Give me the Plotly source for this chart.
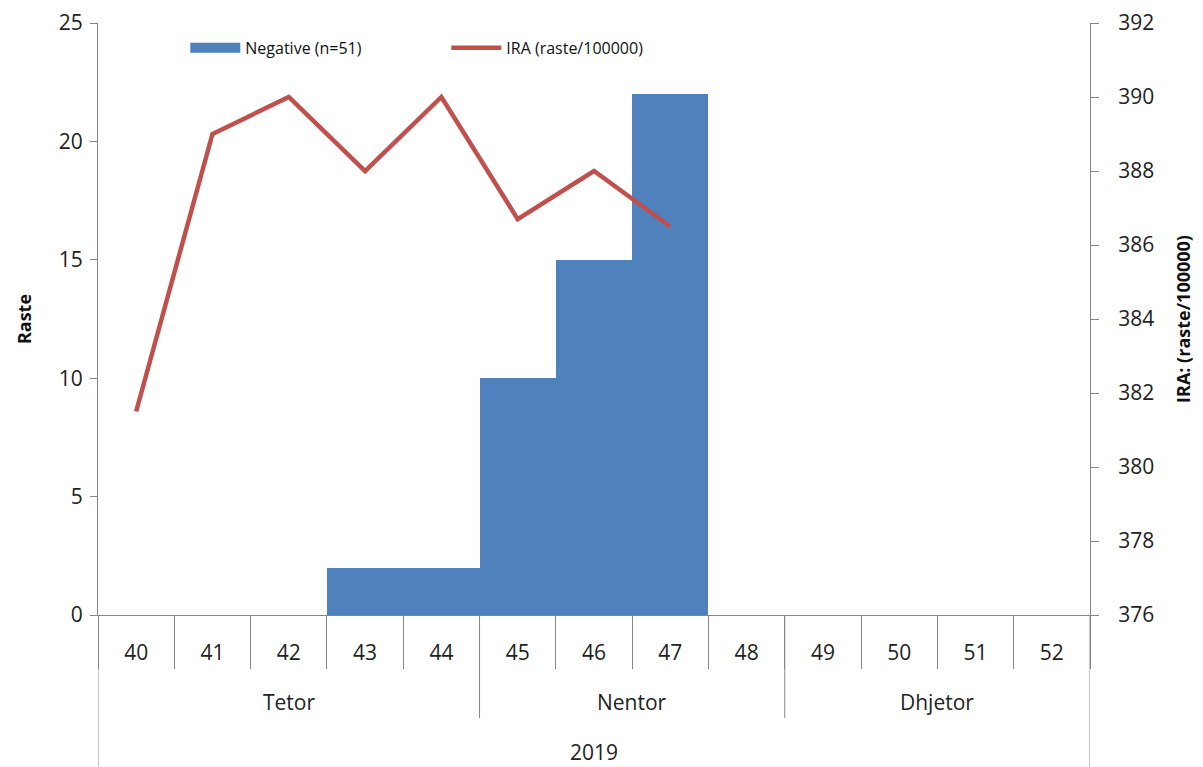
import plotly.graph_objects as go

weeks = ["40", "41", "42", "43", "44", "45", "46", "47", "48", "49", "50", "51", "52"]
months = ["Tetor", "Tetor", "Tetor", "Tetor", "Tetor",
          "Nentor", "Nentor", "Nentor", "Nentor",
          "Dhjetor", "Dhjetor", "Dhjetor", "Dhjetor"]
year_label = "2019"
negative = [0, 0, 0, 2, 2, 10, 15, 22, 0, 0, 0, 0, 0]
ira_weeks = ["40", "41", "42", "43", "44", "45", "46", "47"]
ira_values = [381.5, 389.0, 390.0, 388.0, 390.0, 386.7, 388.0, 386.5]

FONT = "'Open Sans', sans-serif"
GRAY = "#868686"
TXT = "#222222"
BLUE = "#4F81BD"
RED = "#C0504D"
TS = 21

fig = go.Figure()
fig.add_trace(go.Bar(
    x=weeks, y=negative, name="Negative (n=51)",
    marker=dict(color=BLUE, line=dict(width=0)),
    yaxis="y", showlegend=False, legendgroup="neg",
))
# legend proxy giving a wide rectangular swatch for the bar series
fig.add_trace(go.Scatter(
    x=[None], y=[None], name="Negative (n=51)", mode="lines",
    line=dict(color=BLUE, width=14), legendgroup="neg", yaxis="y",
))
fig.add_trace(go.Scatter(
    x=ira_weeks, y=ira_values, name="IRA (raste/100000)", mode="lines",
    line=dict(color=RED, width=4.5),
    yaxis="y2",
))

groups = []
for i, m in enumerate(months):
    if not groups or groups[-1][0] != m:
        groups.append([m, i, i])
    else:
        groups[-1][2] = i

shapes = []
annotations = []
for g in groups[:-1]:
    xb = g[2] + 0.5
    shapes.append(dict(type="line", xref="x", yref="paper", x0=xb, x1=xb,
                       ysizemode="pixel", yanchor=0, y0=0, y1=-103,
                       line=dict(color=GRAY, width=1)))
for g in groups:
    annotations.append(dict(text=g[0], xref="x", yref="paper",
                            x=(g[1] + g[2]) / 2, y=0, yshift=-103,
                            showarrow=False, font=dict(size=TS, color=TXT, family=FONT)))
annotations.append(dict(text=year_label, xref="x", yref="paper",
                        x=(len(weeks) - 1) / 2, y=0, yshift=-153,
                        showarrow=False, font=dict(size=TS, color=TXT, family=FONT)))
for xv in [-0.5, len(weeks) - 0.5]:
    shapes.append(dict(type="line", xref="x", yref="paper", x0=xv, x1=xv,
                       ysizemode="pixel", yanchor=0, y0=0, y1=-160,
                       line=dict(color=GRAY, width=1)))

fig.update_layout(
    width=1203, height=767,
    margin=dict(l=98, r=113, t=23, b=152, autoexpand=False),
    paper_bgcolor="white", plot_bgcolor="white",
    bargap=0,
    font=dict(family=FONT, color=TXT),
    showlegend=True,
    legend=dict(orientation="h", x=0.088, y=0.958, xanchor="left", yanchor="middle",
                font=dict(size=16, color="#111111", family=FONT),
                bgcolor="rgba(0,0,0,0)", itemwidth=50, traceorder="normal",
                entrywidth=196, entrywidthmode="pixels"),
    xaxis=dict(type="category", tickson="boundaries", ticks="outside", ticklen=53,
               tickcolor=GRAY, showline=True, linecolor=GRAY, linewidth=1,
               showgrid=False, tickfont=dict(size=TS, color=TXT, family=FONT),
               range=[-0.5, len(weeks) - 0.5], ticklabelstandoff=19, automargin=False),
    yaxis=dict(range=[0, 25], dtick=5, ticks="outside", ticklen=7, tickcolor=GRAY,
               showline=True, linecolor=GRAY, showgrid=False, zeroline=False,
               tickfont=dict(size=TS, color=TXT, family=FONT), automargin=False,
               ticklabelstandoff=3,
               title=dict(text="<b>Raste</b>", font=dict(size=18, color="#111111", family=FONT),
                          standoff=22)),
    yaxis2=dict(range=[376, 392], dtick=2, ticks="outside", ticklen=8, tickcolor=GRAY,
                overlaying="y", side="right", automargin=False, ticklabelstandoff=15,
                showline=True, linecolor=GRAY, showgrid=False, zeroline=False,
                tickfont=dict(size=TS, color=TXT, family=FONT),
                title=dict(text="<b>IRA: (raste/100000)</b>",
                           font=dict(size=18, color="#111111", family=FONT), standoff=24)),
    shapes=shapes,
    annotations=annotations,
)

fig.write_html("out.html", config={"displayModeBar": False},
               post_script="document.body.style.margin='0px';")
